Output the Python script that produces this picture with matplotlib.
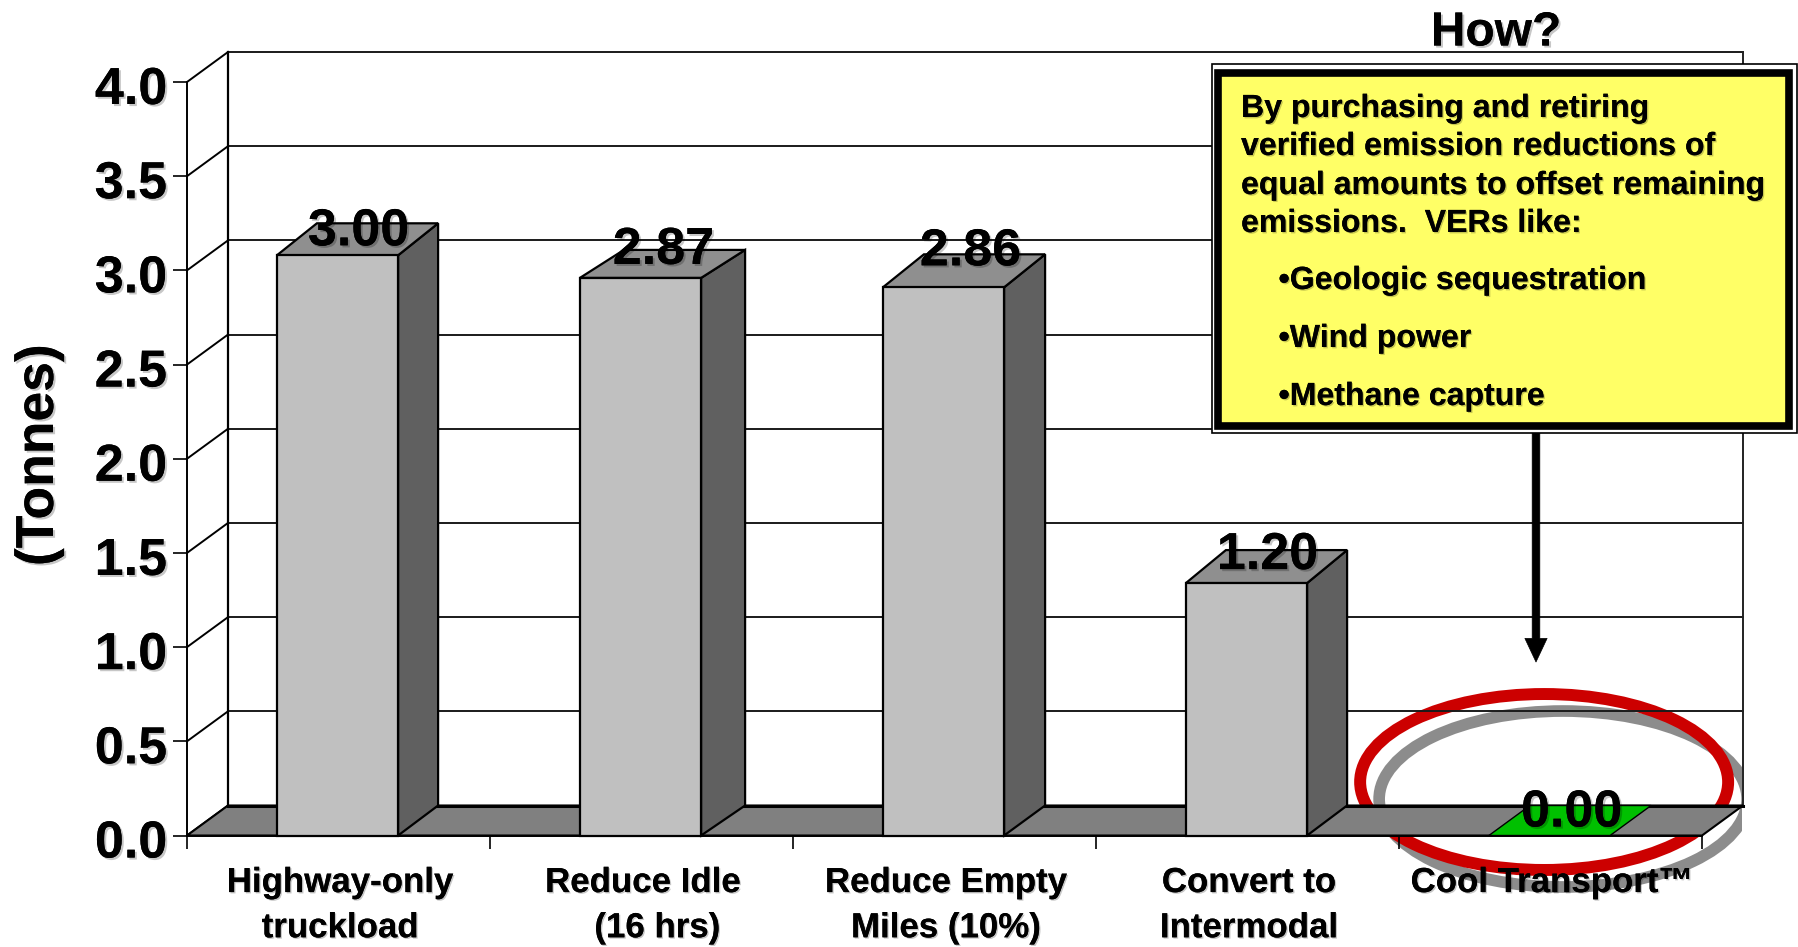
import matplotlib
matplotlib.use("Agg")
import matplotlib.pyplot as plt
import matplotlib.patheffects as pe
from matplotlib.patches import Ellipse, Polygon, Rectangle
from matplotlib.transforms import ScaledTranslation

plt.rcParams['font.family'] = ['Liberation Sans', 'DejaVu Sans']
plt.rcParams['font.weight'] = 'bold'
plt.rcParams['axes.labelweight'] = 'bold'

# bars are drawn a little taller than their printed labels, same as the picture
categories = ["Highway-only\ntruckload", "Reduce Idle\n   (16 hrs)", "Reduce Empty\nMiles (10%)",
              "Convert to\nIntermodal", "Cool Transport\u2122\n "]
bar_heights = [3.08, 2.96, 2.91, 1.34, 0.0]
bar_labels = ["3.00", "2.87", "2.86", "1.20", "0.00"]
y_ticks = [0.0, 0.5, 1.0, 1.5, 2.0, 2.5, 3.0, 3.5, 4.0]
box_intro = ["By purchasing and retiring", "verified emission reductions of",
             "equal amounts to offset remaining", "emissions.  VERs like:"]
box_items = ["\u2022Geologic sequestration", "\u2022Wind power", "\u2022Methane capture"]

W, H = 1798, 947
depth_x = 41 / 303
depth_y = 30 / 188.4
bar_w = 0.4
bar_shift = -1 / 303

# the 3d depth is not even from bar to bar, pixels
bar_depth_px = [40, 44, 41, 40]
bar_rise_px = [32, 28, 33, 33]

# label offsets in pixels from the front top corner centre of each bar
label_dx = [20, 22, 26, 20, 21]
label_dy = [29, 33, 41, 33, 28]

fig = plt.figure(figsize=(W / 100, H / 100), dpi=100, facecolor='white')
ax = fig.add_axes([187 / W, 1 - 835.5 / H, 1515 / W, 753.5 / H])
ax.set_xlim(0, 5)
ax.set_ylim(0, 4)
ax.set_facecolor('none')


def shadow(off=1.5):
    return [pe.withSimplePatchShadow(offset=(off, -off), shadow_rgbFace='#000000', alpha=0.22), pe.Normal()]


def fx(x):
    return x / W


def fy(y):
    return 1 - y / H


# walls and grid
for t in y_ticks:
    ax.plot([0, depth_x], [t, t + depth_y], color='black', lw=1.4, clip_on=False, zorder=1.2)
    if t > 0:
        ax.plot([depth_x, 5 + depth_x], [t + depth_y, t + depth_y], color='#1a1a1a', lw=1.4,
                clip_on=False, zorder=1.2)

ax.plot([depth_x, depth_x], [depth_y, 4 + depth_y], color='black', lw=1.6, clip_on=False, zorder=1.2)
ax.plot([5 + depth_x, 5 + depth_x], [depth_y, 4 + depth_y], color='#222222', lw=1.4, clip_on=False, zorder=1.2)

# ring + its shadow, behind the floor
ring_x, ring_y, ring_w, ring_h = 4.479, 0.284, 1.2145, 0.934
ring_shadow = Ellipse((ring_x + 19 / 303, ring_y - 17 / 188.4), ring_w, ring_h, fill=False,
                      edgecolor='#8c8c8c', lw=8.4, clip_on=True, zorder=0.5)
ax.add_patch(ring_shadow)
ring_shadow.set_clip_path(Rectangle((-1, -1), 1 + 5.132, 6, transform=ax.transData))
ax.add_patch(Ellipse((ring_x, ring_y), ring_w, ring_h, fill=False, edgecolor='#cc0000', lw=8.6,
                     clip_on=False, zorder=0.6))

# floor
ax.add_patch(Polygon([(0, 0), (5, 0), (5 + depth_x, depth_y), (depth_x, depth_y)], closed=True,
                     facecolor='#808080', edgecolor='black', lw=1.5, clip_on=False, zorder=2))
ax.plot([depth_x, 5 + depth_x], [depth_y, depth_y], color='black', lw=2.2, clip_on=False, zorder=2.1)

# bars
for i, h in enumerate(bar_heights):
    x0 = i + 0.5 - bar_w / 2 + bar_shift
    x1 = i + 0.5 + bar_w / 2 + bar_shift
    if h > 0:
        dx = bar_depth_px[i] / 303
        dy = bar_rise_px[i] / 188.4
        ax.add_patch(Polygon([(x1, 0), (x1 + dx, depth_y), (x1 + dx, h + dy), (x1, h)],
                             facecolor='#606060', edgecolor='black', lw=1.6, clip_on=False, zorder=3))
        ax.add_patch(Polygon([(x0, h), (x1, h), (x1 + dx, h + dy), (x0 + dx, h + dy)],
                             facecolor='#8f8f8f', edgecolor='black', lw=1.6, clip_on=False, zorder=3))
        ax.add_patch(Rectangle((x0, 0), x1 - x0, h, facecolor='#c0c0c0', edgecolor='black', lw=1.6,
                               clip_on=False, zorder=3.1))
    else:
        ax.add_patch(Polygon([(x0, 0), (x1, 0), (x1 + depth_x, depth_y), (x0 + depth_x, depth_y)],
                             facecolor='#00c000', edgecolor='black', lw=1.0, clip_on=False, zorder=3))
    ax.annotate(bar_labels[i], xy=(i + 0.5, h), xytext=(label_dx[i] * 0.72, label_dy[i] * 0.72),
                textcoords='offset points', ha='center', va='center_baseline', fontsize=37.5,
                color='black', zorder=4, annotation_clip=False, path_effects=shadow())

# axes
for s in ['top', 'right']:
    ax.spines[s].set_visible(False)
for s in ['left', 'bottom']:
    ax.spines[s].set_linewidth(1.4)
    ax.spines[s].set_zorder(3.5)
ax.set_yticks(y_ticks)
ax.set_yticklabels(["%.1f" % t for t in y_ticks], fontsize=37.5, va='center_baseline', path_effects=shadow())
ax.tick_params(axis='y', length=10, width=1.2, pad=4.3)
ax.set_xticks(range(6))
ax.set_xticklabels([])
ax.tick_params(axis='x', which='major', length=9.5, width=1.2)
ax.set_xticks([i + 0.5 for i in range(5)], minor=True)
ax.set_xticklabels(categories, minor=True, fontsize=25.1, linespacing=1.47, path_effects=shadow(1))
ax.tick_params(axis='x', which='minor', length=0, pad=22)
ax.set_ylabel("(Tonnes)", fontsize=38.5, path_effects=shadow())
ax.yaxis.set_label_coords((64 - 187) / 1515, 0.505)

# nudge labels to where they sit in the picture
down = ScaledTranslation(0, -3 / 100, fig.dpi_scale_trans)
for lab in ax.get_yticklabels():
    lab.set_transform(lab.get_transform() + down)
right = ScaledTranslation(1.5 / 100, 0, fig.dpi_scale_trans)
for lab in ax.get_xticklabels(minor=True):
    lab.set_transform(lab.get_transform() + right)

# callout
fig.text(fx(1496), fy(33), "How?", fontsize=34.5, ha='center', va='center', path_effects=shadow())
fig.add_artist(Rectangle((fx(1211.5), fy(433)), 585 / W, 369 / H, facecolor='white', edgecolor='black',
                         lw=1.2, transform=fig.transFigure, zorder=2))
fig.add_artist(Rectangle((fx(1218), fy(425.5)), 571 / W, 353 / H, facecolor='#ffff66', edgecolor='black',
                         lw=5.5, transform=fig.transFigure, zorder=2.1))
intro_ys = [109, 147, 186, 224]
for line, y in zip(box_intro, intro_ys):
    fig.text(fx(1241), fy(y), line, fontsize=23.1, va='center', color='black', zorder=3, path_effects=shadow(1))
item_ys = [281, 339, 397]
for line, y in zip(box_items, item_ys):
    fig.text(fx(1278.5), fy(y), line, fontsize=23.1, va='center', color='black', zorder=3, path_effects=shadow(1))

ax.annotate('', xy=(fx(1536), fy(662)), xytext=(fx(1536), fy(433)), xycoords='figure fraction',
            textcoords='figure fraction',
            arrowprops=dict(facecolor='black', edgecolor='black', width=5.5, headwidth=16, headlength=17, shrink=0, lw=0.5))

fig.savefig('out.png', dpi=100)
